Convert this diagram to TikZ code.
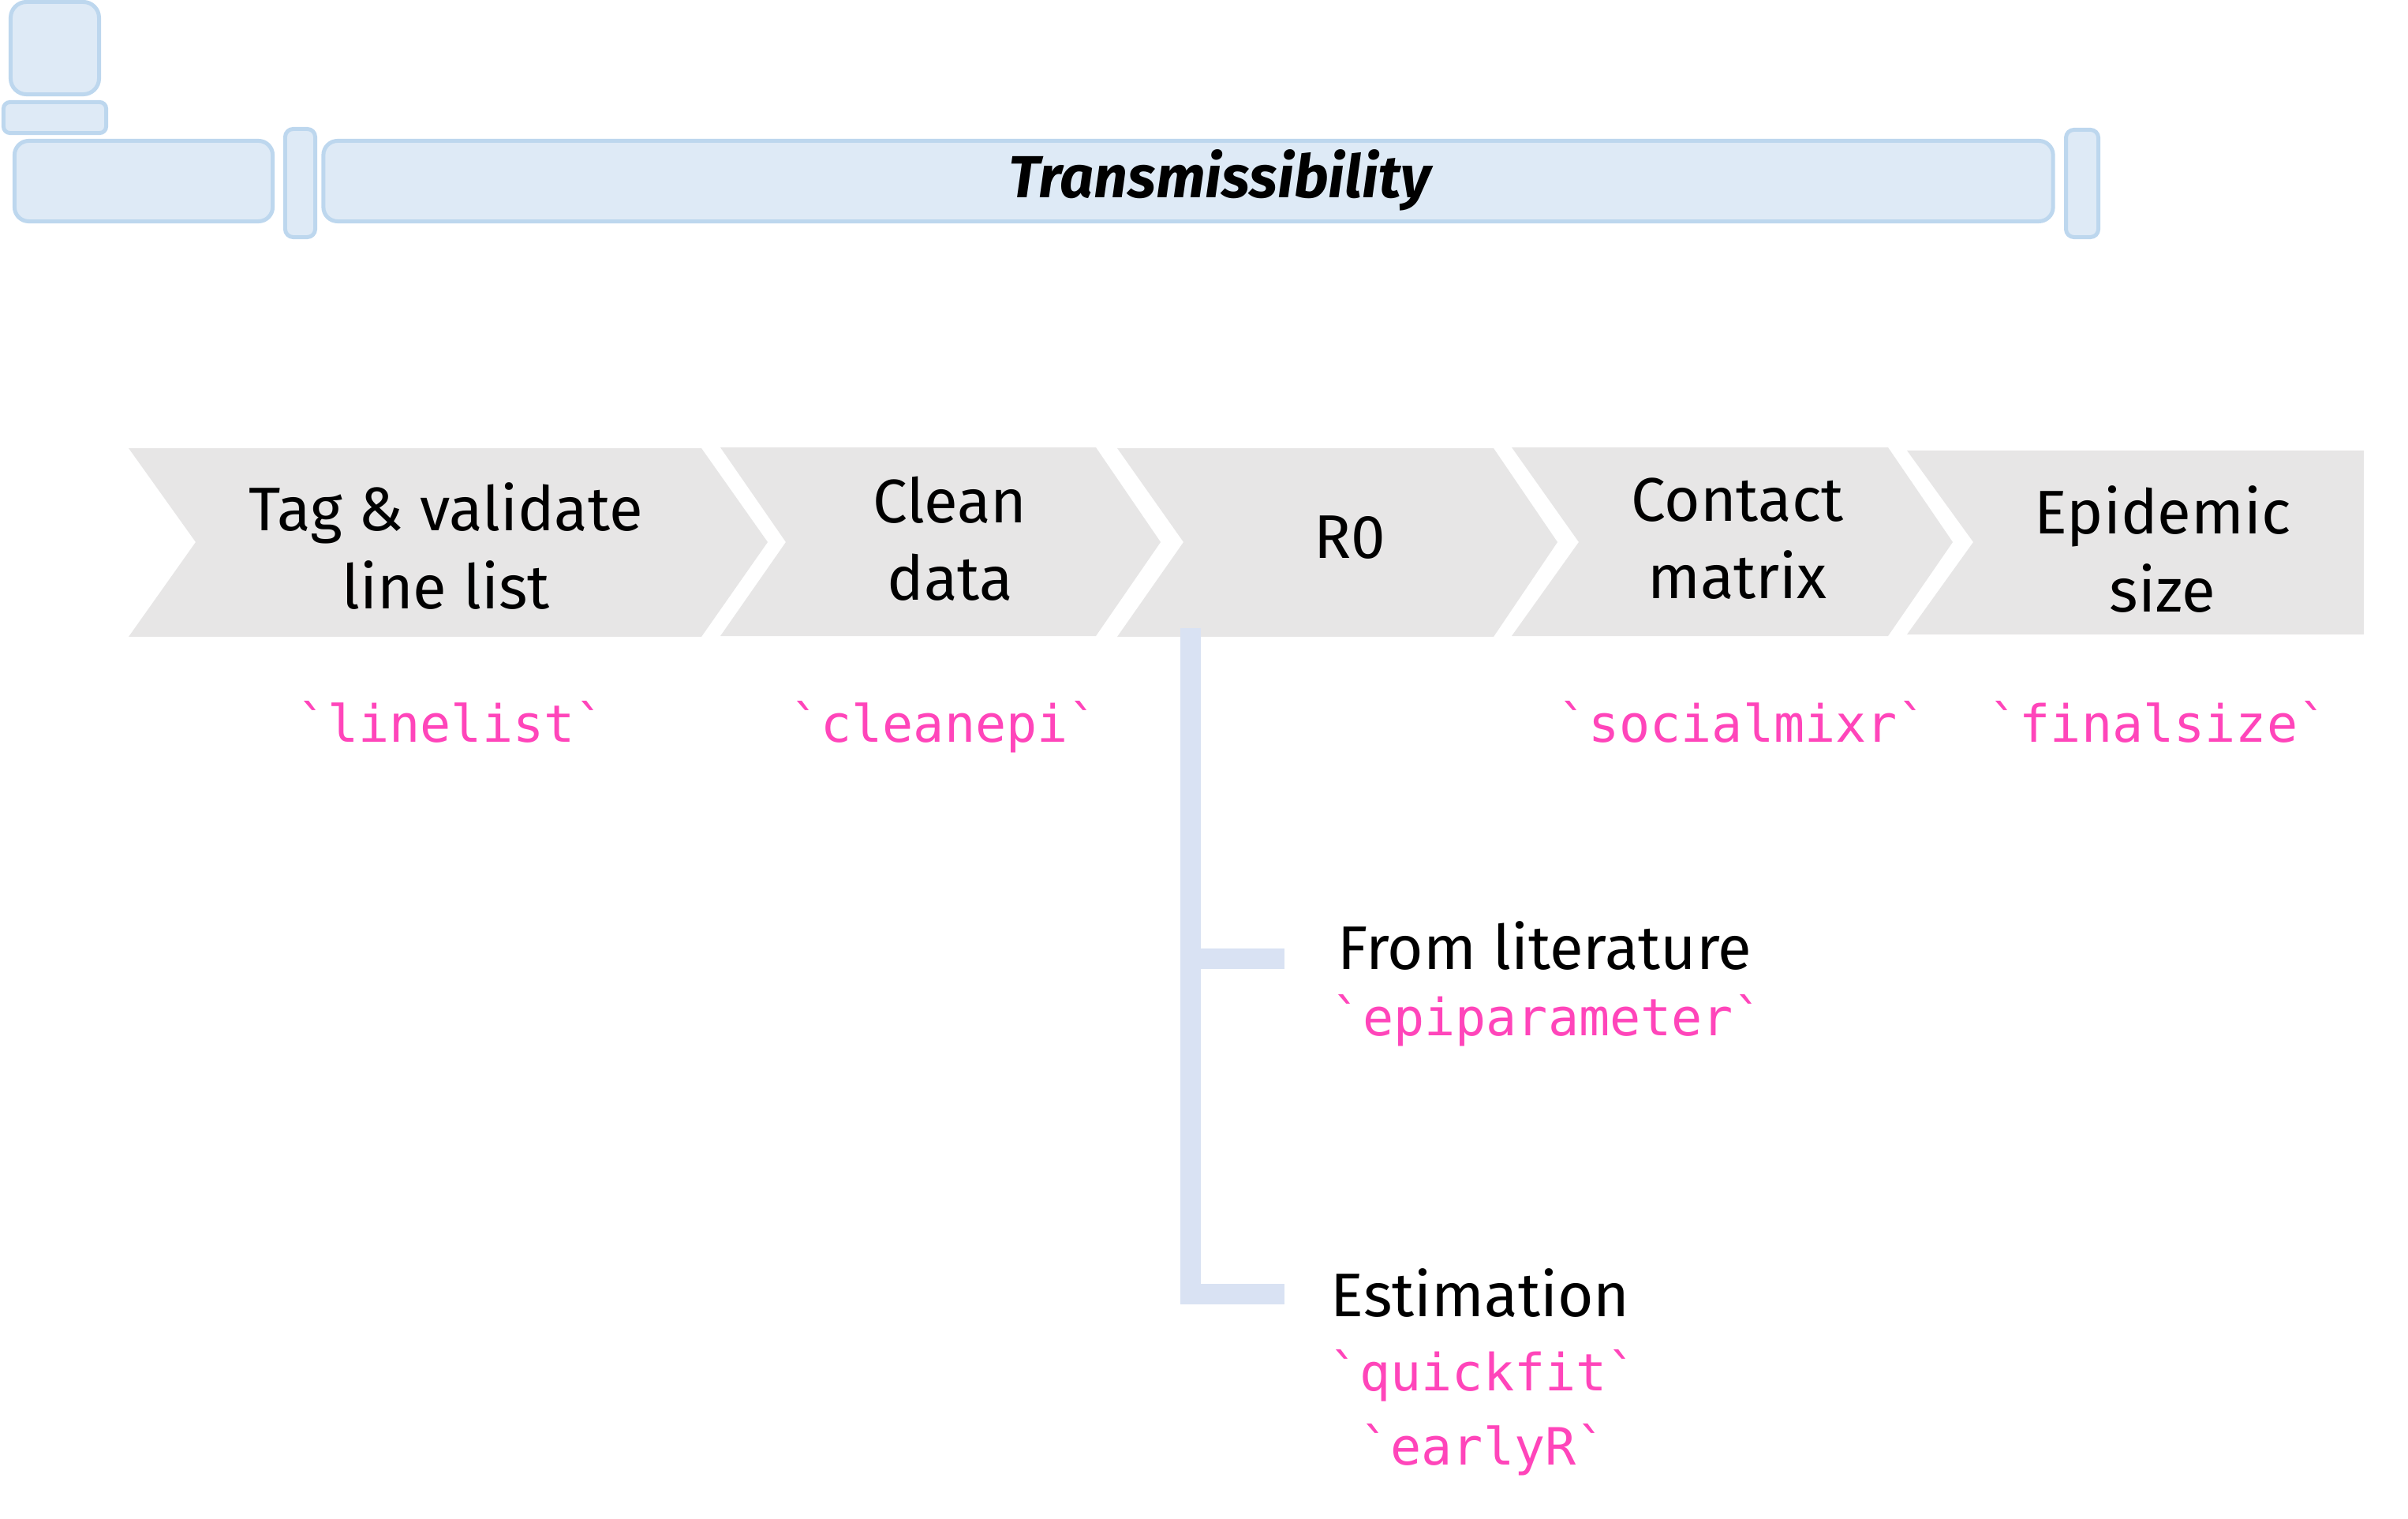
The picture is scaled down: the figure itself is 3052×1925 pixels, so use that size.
\documentclass[tikz,border=0pt]{standalone}
\usepackage{fontspec}
\setmainfont{Fira Sans}
\setmonofont{DejaVu Sans Mono}
\definecolor{hdrfill}{HTML}{DEEAF6}
\definecolor{hdrline}{HTML}{BDD7EE}
\definecolor{chevgray}{HTML}{E7E6E6}
\definecolor{barblue}{HTML}{D9E2F3}
\definecolor{codepink}{HTML}{FF45BA}
\begin{document}
\begin{tikzpicture}[x=0.01cm,y=-0.01cm,
  hdr/.style={draw=hdrline, fill=hdrfill, line width=1.42pt, inner sep=0pt},
  chev/.style={fill=chevgray},
  steptext/.style={font=\fontsize{22.2}{27.9}\selectfont, align=center, inner sep=0pt},
  titletext/.style={font=\fontsize{21.4}{26}\selectfont\bfseries\itshape, inner sep=0pt},
  code/.style={font=\ttfamily\fontsize{18.5}{26.7}\selectfont, text=codepink, align=center, inner sep=0pt},
  bar/.style={draw=barblue, line width=0.26cm, line join=miter, line cap=butt}]
\useasboundingbox (0,0) rectangle (3052,1925);
% header boxes
\node[hdr, rounded corners=0.2cm, minimum width=1.12cm, minimum height=1.17cm] (h1) at (69.5,61) {};
\node[hdr, rounded corners=0.08cm, minimum width=1.30cm, minimum height=0.39cm] (h2) at (69.5,149) {};
\node[hdr, rounded corners=0.18cm, minimum width=3.27cm, minimum height=1.02cm] (h3) at (182,229.5) {};
\node[hdr, rounded corners=0.1cm, minimum width=0.38cm, minimum height=1.37cm] (h4) at (380.5,232) {};
\node[hdr, rounded corners=0.18cm, minimum width=21.91cm, minimum height=1.02cm] (h5) at (1506,229.5) {};
\node[hdr, rounded corners=0.1cm, minimum width=0.41cm, minimum height=1.36cm] (h6) at (2639,232.5) {};
\node[titletext, anchor=base] (title) at (1546,251) {Transmissibility};
% chevrons
\path[chev] (163,568) -- (889,568) -- (973,687) -- (889,807) -- (163,807) -- (248,687) -- cycle;
\path[chev] (913,567) -- (1389,567) -- (1471,687) -- (1389,806) -- (913,806) -- (996,687) -- cycle;
\path[chev] (1416,568) -- (1893,568) -- (1974,687) -- (1893,807) -- (1416,807) -- (1500,687) -- cycle;
\path[chev] (1916,567) -- (2393,567) -- (2475,687) -- (2393,806) -- (1916,806) -- (2001,687) -- cycle;
\path[chev] (2417,571) -- (2996,571) -- (2996,804) -- (2417,804) -- (2501,687) -- cycle;
\node[steptext] (s1) at (565,692) {Tag \& validate\\line list};
\node[steptext] (s2) at (1204,683) {Clean\\data};
\node[steptext] (s3) at (1711,681) {R0};
\node[steptext] (s4) at (2202,683) {Contact\\matrix};
\node[steptext] (s5) at (2741,696) {Epidemic\\size};
% packages
\node[code, anchor=base] (p1) at (572,940) {`linelist`};
\node[code, anchor=base] (p2) at (1197,940) {`cleanepi`};
\node[code, anchor=base] (p4) at (2209,940) {`socialmixr`};
\node[code, anchor=base] (p5) at (2736,940) {`finalsize`};
% tree
\coordinate (bartop) at (1509,796);
\coordinate (b1start) at (1509,1215);
\coordinate (b1end) at (1628,1215);
\coordinate (barbot) at (1509,1640);
\coordinate (b2end) at (1628,1640);
\draw[bar] (bartop) -- (barbot) -- (b2end);
\draw[bar] (b1start) -- (b1end);
\node[steptext, anchor=base] (lit) at (1958,1228) {From literature};
\node[code, anchor=base] (litpkg) at (1962,1312) {`epiparameter`};
\node[steptext, anchor=base] (est) at (1876,1668) {Estimation};
\node[code] (estpkg) at (1880,1790) {`quickfit`\\`earlyR`};
\end{tikzpicture}
\end{document}
